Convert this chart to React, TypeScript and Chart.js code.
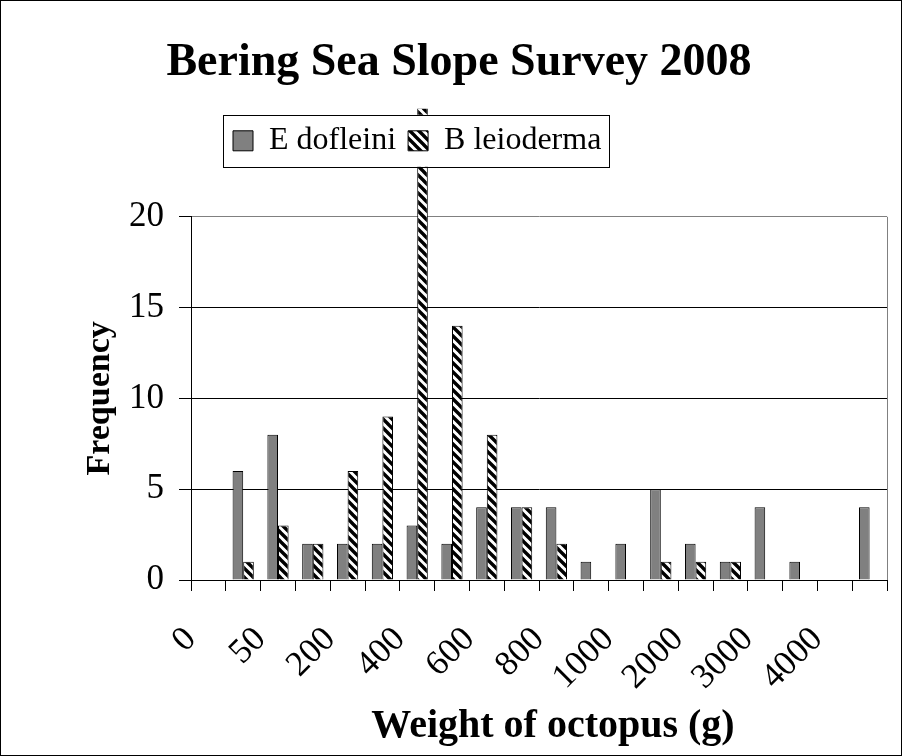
import { useEffect, useRef } from 'react';
import { Chart, registerables } from 'chart.js';

Chart.register(...registerables);

const chartTitle = 'Bering Sea Slope Survey 2008';
const xTitle = 'Weight of octopus (g)';
const yTitle = 'Frequency';
const seriesNames = ['E dofleini', 'B leioderma'];
// labels shown at every second bin boundary
const tickLabels = ['0', '50', '200', '400', '600', '800', '1000', '2000', '3000', '4000'];
const eDofleini = [0, 6, 8, 2, 2, 2, 3, 2, 4, 4, 4, 1, 2, 5, 2, 1, 4, 1, 0, 4];
const bLeioderma = [0, 1, 3, 2, 6, 9, 26, 14, 8, 4, 2, 0, 0, 1, 1, 1, 0, 0, 0, 0];
const yTicks = [0, 5, 10, 15, 20];

const SERIF = "'Liberation Serif', 'Times New Roman', serif";

function makeHatch(): CanvasPattern | string {
  const s = 9;
  const c = document.createElement('canvas');
  c.width = s;
  c.height = s;
  const g = c.getContext('2d');
  if (!g) return '#000';
  g.fillStyle = '#fff';
  g.fillRect(0, 0, s, s);
  g.strokeStyle = '#000';
  g.lineWidth = 3.4;
  g.beginPath();
  for (const o of [-s, 0, s]) {
    g.moveTo(o - 1, -1);
    g.lineTo(o + s + 1, s + 1);
  }
  g.stroke();
  return g.createPattern(c, 'repeat') || '#000';
}

const legendFrame = {
  id: 'legendFrame',
  afterLayout(chart: any) {
    const lg = chart.legend;
    const ca = chart.chartArea;
    if (lg) {
      const h = lg.bottom - lg.top;
      lg.left = ca.left + 30;
      lg.top = ca.top - 104;
      lg.bottom = lg.top + h;
      lg.height = h;
    }
    const xs = chart.scales && chart.scales.x;
    if (xs && !xs.__titleShift) {
      const orig = xs.drawTitle.bind(xs);
      xs.drawTitle = function (...args: any[]) {
        const ctx = this.ctx;
        ctx.save();
        ctx.translate(14, 0);
        orig(...args);
        ctx.restore();
      };
      xs.__titleShift = true;
    }
  },
  afterDatasetsDraw(chart: any) {
    const lg = chart.legend;
    if (!lg || !lg.legendHitBoxes || !lg.legendHitBoxes.length) return;
    const hb = lg.legendHitBoxes;
    const l = Math.min(...hb.map((b: any) => b.left)) - 10;
    const r = Math.max(...hb.map((b: any) => b.left + b.width)) + 8;
    const t = Math.min(...hb.map((b: any) => b.top)) - 10;
    const b = Math.max(...hb.map((b: any) => b.top + b.height)) + 10;
    const ctx = chart.ctx;
    ctx.save();
    ctx.fillStyle = '#fff';
    ctx.fillRect(l, t, r - l, b - t);
    ctx.strokeStyle = '#000';
    ctx.lineWidth = 1;
    ctx.strokeRect(Math.round(l) + 0.5, Math.round(t) + 0.5, Math.round(r - l), Math.round(b - t));
    ctx.restore();
    lg.draw();
  },
};

export default function App() {
  const ref = useRef<HTMLCanvasElement>(null);

  useEffect(() => {
    if (!ref.current) return;
    Chart.defaults.font.family = SERIF;
    Chart.defaults.color = '#000';
    const hatch = makeHatch();
    const nBins = eDofleini.length;

    const chart = new Chart(ref.current, {
      type: 'bar',
      data: {
        datasets: [
          {
            label: seriesNames[0],
            data: eDofleini.map((v, i) => ({ x: i + 0.5, y: v })),
            backgroundColor: '#808080',
            borderColor: '#000',
            borderWidth: 1,
            categoryPercentage: 0.61,
            barPercentage: 1,
          },
          {
            label: seriesNames[1],
            data: bLeioderma.map((v, i) => ({ x: i + 0.5, y: v })),
            backgroundColor: hatch as any,
            borderColor: '#000',
            borderWidth: 1,
            categoryPercentage: 0.61,
            barPercentage: 1,
            clip: { left: 0, top: 108, right: 0, bottom: 1 } as any,
          },
        ],
      },
      options: {
        responsive: false,
        animation: false,
        devicePixelRatio: 1,
        layout: { padding: { left: 30, right: 14, top: 0, bottom: 0 } },
        plugins: {
          tooltip: { enabled: false },
          title: {
            display: true,
            text: chartTitle,
            color: '#000',
            font: { family: SERIF, size: 46, weight: 'bold' },
            padding: { top: 35, bottom: 71.6 },
          },
          legend: {
            display: true,
            position: 'top',
            align: 'start',
            labels: {
              boxWidth: 20,
              boxHeight: 20,
              padding: 12,
              color: '#000',
              font: { family: SERIF, size: 32 },
            },
          },
        },
        scales: {
          x: {
            type: 'linear',
            min: 0,
            max: nBins,
            offset: false,
            ticks: {
              stepSize: 1,
              autoSkip: false,
              minRotation: 45,
              maxRotation: 45,
              padding: 28,
              color: '#000',
              font: { family: SERIF, size: 35 },
              callback: (v: any) => {
                const n = Number(v);
                return n % 2 === 0 && n / 2 < tickLabels.length ? tickLabels[n / 2] : '';
              },
            },
            grid: {
              offset: false,
              drawOnChartArea: true,
              color: (c: any) => (c.tick && c.tick.value === nBins ? '#808080' : 'rgba(0,0,0,0)'),
              tickColor: '#000',
              tickLength: 11,
              lineWidth: 1,
            },
            border: { color: '#000', width: 1 },
            title: {
              display: true,
              text: xTitle,
              color: '#000',
              font: { family: SERIF, size: 40, weight: 'bold' },
              padding: { top: 0, bottom: 4 },
            },
            afterFit: (s: any) => {
              s.height = 175;
              s.paddingLeft = 0;
              s.paddingRight = 0;
            },
          } as any,
          y: {
            min: 0,
            max: 20,
            afterBuildTicks: (s: any) => {
              s.ticks = yTicks.map((v) => ({ value: v }));
            },
            ticks: {
              padding: 15,
              color: '#000',
              font: { family: SERIF, size: 35 },
            },
            grid: {
              color: (c: any) => (c.tick && c.tick.value === 20 ? '#808080' : '#000'),
              tickColor: '#000',
              tickLength: 12,
              lineWidth: 1,
            },
            border: { color: '#000', width: 1 },
            title: {
              display: true,
              text: yTitle,
              color: '#000',
              font: { family: SERIF, size: 34, weight: 'bold' },
              padding: { top: 48.6, bottom: 0 },
            },
            afterFit: (s: any) => {
              s.width = 160;
            },
          } as any,
        },
      },
      plugins: [legendFrame],
    });

    return () => chart.destroy();
  }, []);

  return (
    <div
      style={{
        position: 'fixed',
        left: 0,
        top: 0,
        width: 902,
        height: 756,
        border: '1px solid #000',
        boxSizing: 'border-box',
        background: '#fff',
      }}
    >
      <canvas ref={ref} width={900} height={754} style={{ display: 'block' }} />
    </div>
  );
}
